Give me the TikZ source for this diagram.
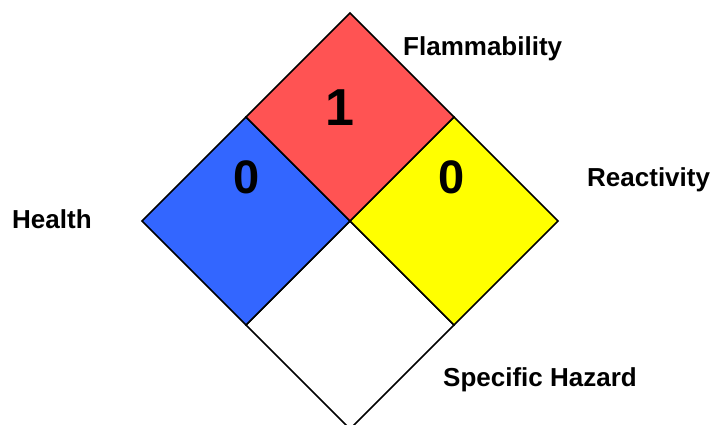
\documentclass[tikz,border=0pt]{standalone}
\usepackage{fontspec}
\setmainfont{Liberation Sans}
\definecolor{flamred}{HTML}{FF5353}
\definecolor{healthblue}{HTML}{3366FF}
\definecolor{reactyellow}{HTML}{FFFF00}
\begin{document}
\begin{tikzpicture}[x=1pt,y=-1pt,
  quad/.style={draw=black,line width=1.6pt,line join=miter},
  lbl/.style={font=\bfseries\fontsize{26}{28}\selectfont,inner sep=0pt,anchor=base west},
  num/.style={font=\bfseries\fontsize{#1}{#1}\selectfont,inner sep=0pt}]
\useasboundingbox (0,0) rectangle (712,425);
\clip (0,0) rectangle (712,425);
\coordinate (T) at (350,13);
\coordinate (L) at (142,221);
\coordinate (R) at (558,221);
\coordinate (B) at (350,429);
\coordinate (C) at (350,221);
\coordinate (TL) at (246,117);
\coordinate (TR) at (454,117);
\coordinate (BL) at (246,325);
\coordinate (BR) at (454,325);
\filldraw[quad,fill=white] (C) -- (BR) -- (B) -- (BL) -- cycle;
\filldraw[quad,fill=healthblue] (TL) -- (C) -- (BL) -- (L) -- cycle;
\filldraw[quad,fill=reactyellow] (TR) -- (R) -- (BR) -- (C) -- cycle;
\filldraw[quad,fill=flamred] (T) -- (TR) -- (C) -- (TL) -- cycle;
\node[num=52] (n1) at (340,108) {1};
\node[num=47] (n0a) at (247,177) {0};
\node[num=47] (n0b) at (452,177) {0};
\node[lbl] (flam) at (403,56) {Flammability};
\node[lbl] (react) at (587,186) {Reactivity};
\node[lbl] (health) at (12,228) {Health};
\node[lbl] (spec) at (443,386) {Specific Hazard};
\end{tikzpicture}
\end{document}
